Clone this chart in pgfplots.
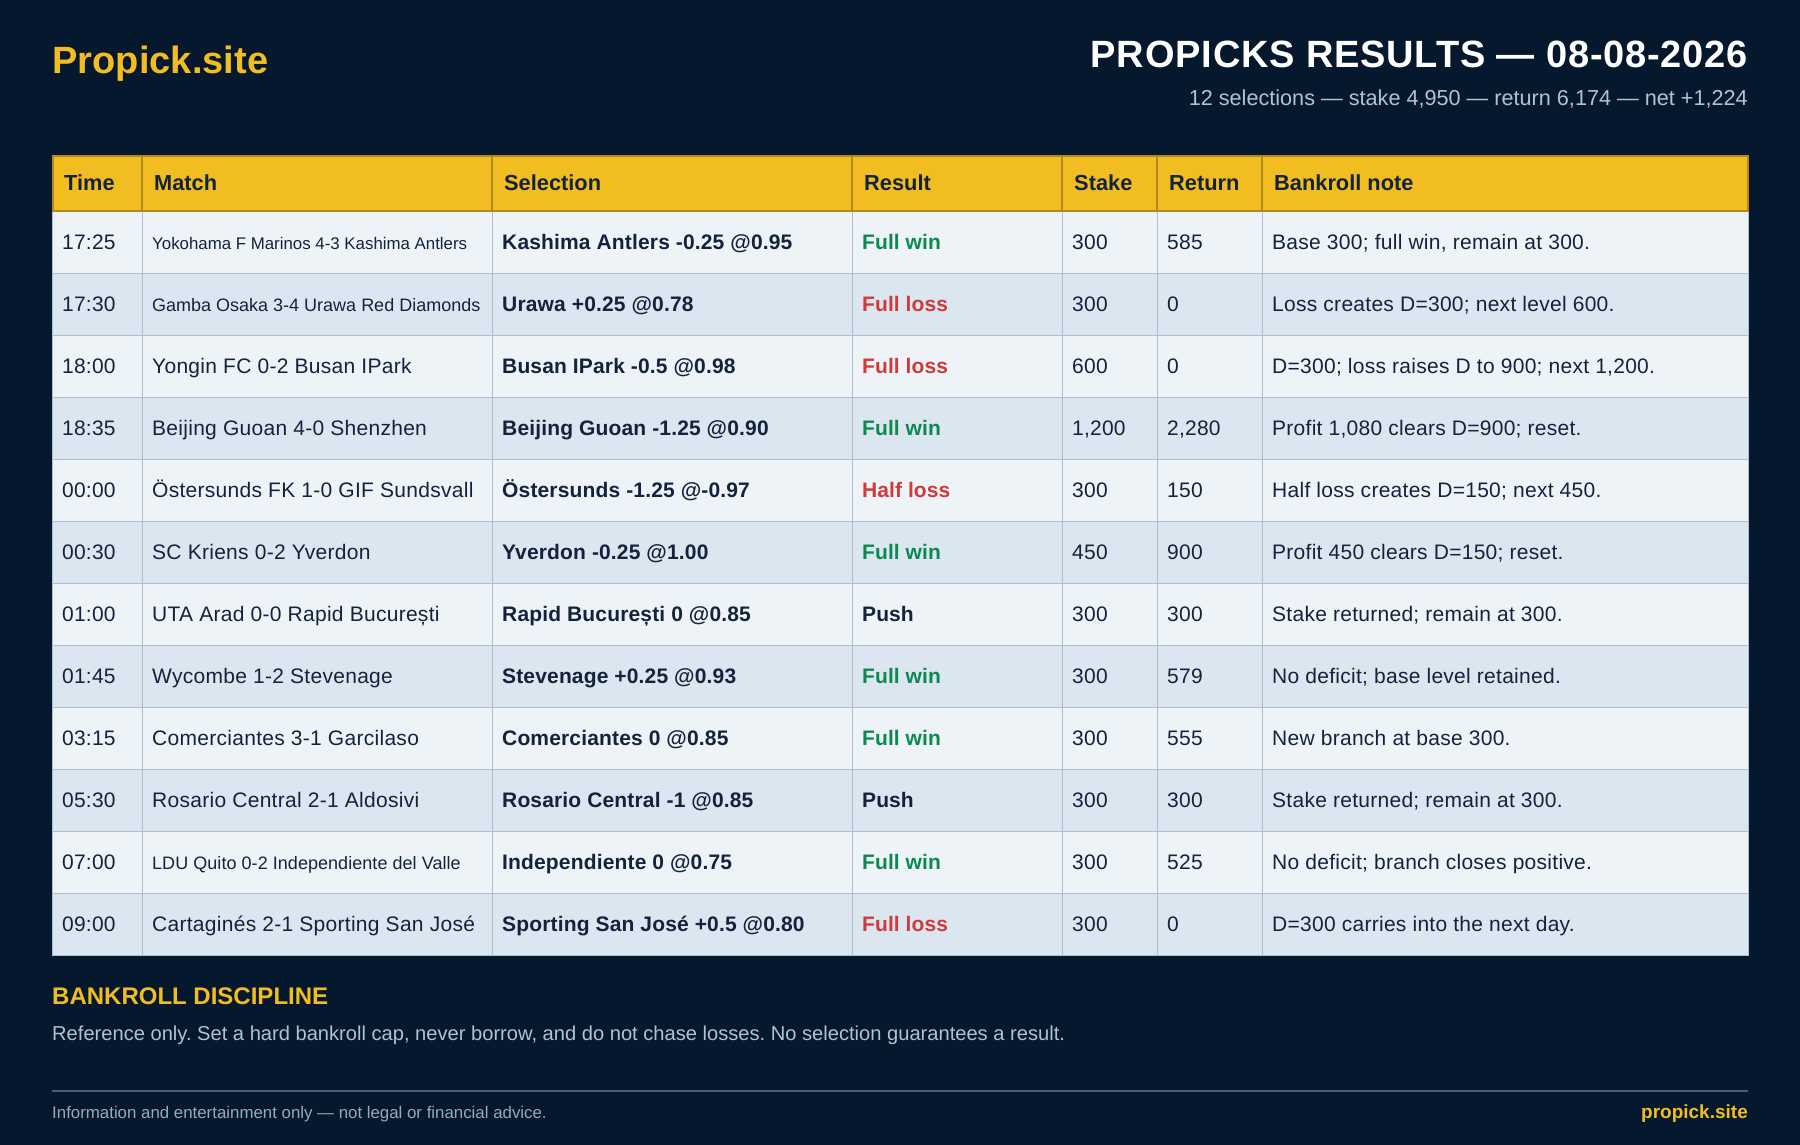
\documentclass[border=0pt]{standalone}
\usepackage{pgfplots}
\pgfplotsset{compat=1.18}
\usepackage{fontspec}
\setmainfont{Liberation Sans}
\frenchspacing
\definecolor{bg}{HTML}{05182D}
\definecolor{gold}{HTML}{F2BD20}
\definecolor{golddark}{HTML}{B08A1C}
\definecolor{rowa}{HTML}{EEF3F8}
\definecolor{rowb}{HTML}{DCE6F1}
\definecolor{gridc}{HTML}{AEBDCF}
\definecolor{ink}{HTML}{14233C}
\definecolor{winc}{HTML}{0B8A4F}
\definecolor{lossc}{HTML}{D13A3A}
\definecolor{muted}{HTML}{B4C1CF}
\definecolor{rulec}{HTML}{4A5D75}
\newcommand{\fs}[1]{\fontsize{#1}{#1}\selectfont}
\newcommand{\ls}[1]{\addfontfeature{LetterSpace=#1}}
\newcommand{\tl}[5]{\node[anchor=base west,inner sep=0pt,text=#4] at (axis cs:#1,#2) {\fs{#3}#5};}
\newcommand{\tr}[5]{\node[anchor=base east,inner sep=0pt,text=#4] at (axis cs:#1,#2) {\fs{#3}#5};}
\newcommand{\tb}[5]{\node[anchor=base west,inner sep=0pt,text=#4] at (axis cs:#1,#2) {\fs{#3}\bfseries #5};}
\newcommand{\m}{\ls{1.35}}
% row: baseline, time, match size, match, selection, result colour, result, note
\newcommand{\row}[8]{%
  \tl{62}{#1}{21}{ink}{\ls{1.1}#2}%
  \tl{152}{#1}{#3}{ink}{#4}%
  \tb{502}{#1}{21}{ink}{\ls{0.75}#5}%
  \tb{862}{#1}{21}{#6}{\ls{0.4}#7}%
  \tl{1272}{#1}{21}{ink}{\ls{1.3}#8}%
}
\begin{document}
\begin{tikzpicture}
\begin{axis}[
  scale only axis, width=1800pt, height=1145pt,
  xmin=0, xmax=1800, ymin=0, ymax=1145, y dir=reverse,
  axis lines=none, clip=false]
\addplot[fill=bg,draw=none] coordinates {(0,0)(1800,0)(1800,1145)(0,1145)} --cycle;
% header and rows
\addplot[fill=gold,draw=none] coordinates {(52,155)(1748,155)(1748,211)(52,211)} --cycle;
\addplot[fill=rowa,draw=none] coordinates {(52,211)(1748,211)(1748,273)(52,273)} --cycle;
\addplot[fill=rowb,draw=none] coordinates {(52,273)(1748,273)(1748,335)(52,335)} --cycle;
\addplot[fill=rowa,draw=none] coordinates {(52,335)(1748,335)(1748,397)(52,397)} --cycle;
\addplot[fill=rowb,draw=none] coordinates {(52,397)(1748,397)(1748,459)(52,459)} --cycle;
\addplot[fill=rowa,draw=none] coordinates {(52,459)(1748,459)(1748,521)(52,521)} --cycle;
\addplot[fill=rowb,draw=none] coordinates {(52,521)(1748,521)(1748,583)(52,583)} --cycle;
\addplot[fill=rowa,draw=none] coordinates {(52,583)(1748,583)(1748,645)(52,645)} --cycle;
\addplot[fill=rowb,draw=none] coordinates {(52,645)(1748,645)(1748,707)(52,707)} --cycle;
\addplot[fill=rowa,draw=none] coordinates {(52,707)(1748,707)(1748,769)(52,769)} --cycle;
\addplot[fill=rowb,draw=none] coordinates {(52,769)(1748,769)(1748,831)(52,831)} --cycle;
\addplot[fill=rowa,draw=none] coordinates {(52,831)(1748,831)(1748,893)(52,893)} --cycle;
\addplot[fill=rowb,draw=none] coordinates {(52,893)(1748,893)(1748,955)(52,955)} --cycle;
% grid
\pgfplotsinvokeforeach{52.5,142.2,492.2,852.2,1062.2,1157.2,1262.2,1748}{
  \addplot[gridc,line width=1pt] coordinates {(#1,211)(#1,955.5)};
}
\pgfplotsinvokeforeach{273,335,397,459,521,583,645,707,769,831,893,955.5}{
  \addplot[gridc,line width=1pt] coordinates {(52,#1)(1748.5,#1)};
}
% header borders
\pgfplotsinvokeforeach{53,142,492,852,1062,1157,1262,1748}{
  \addplot[golddark,line width=2.2pt] coordinates {(#1,155)(#1,211.5)};
}
\addplot[golddark,line width=2pt] coordinates {(52,156)(1749,156)};
\addplot[golddark,line width=2pt] coordinates {(52,210.5)(1749,210.5)};
% footer rule
\addplot[rulec,line width=2pt] coordinates {(52,1090.5)(1748,1090.5)};
% stake and return values
\addplot[draw=none,mark=none,nodes near coords,point meta=explicit symbolic,
  nodes near coords style={anchor=base west,inner sep=0pt,text=ink,font=\fs{21}\ls{1.1}}]
  table[x=x,y=y,meta=label] {
x y label
1072 249.5 300
1072 311.5 300
1072 373.5 600
1072 435.5 1,200
1072 497.5 300
1072 559.5 450
1072 621.5 300
1072 683.5 300
1072 745.5 300
1072 807.5 300
1072 869.5 300
1072 931.5 300
};
\addplot[draw=none,mark=none,nodes near coords,point meta=explicit symbolic,
  nodes near coords style={anchor=base west,inner sep=0pt,text=ink,font=\fs{21}\ls{1.1}}]
  table[x=x,y=y,meta=label] {
x y label
1167 249.5 585
1167 311.5 0
1167 373.5 0
1167 435.5 2,280
1167 497.5 150
1167 559.5 900
1167 621.5 300
1167 683.5 579
1167 745.5 555
1167 807.5 300
1167 869.5 525
1167 931.5 0
};
% titles
\tb{52}{73.5}{38}{gold}{\ls{0.2}Propick.site}
\node[anchor=base east,inner sep=0pt,text=white] at (axis cs:1748,68) {\fs{38}\bfseries\ls{2.1}PROPICKS RESULTS — 08-08-2026};
\tr{1748}{106}{21.65}{muted}{12 selections — stake 4,950 — return 6,174 — net +1,224}
% header labels
\tb{64}{190}{21.8}{ink}{Time}
\tb{154}{190}{21.8}{ink}{Match}
\tb{504}{190}{21.8}{ink}{Selection}
\tb{864}{190}{21.8}{ink}{Result}
\tb{1074}{190}{21.8}{ink}{Stake}
\tb{1169}{190}{21.8}{ink}{Return}
\tb{1274}{190}{21.8}{ink}{Bankroll note}
% rows
\row{249.5}{17:25}{16.85}{Yokohama F Marinos 4-3 Kashima Antlers}{Kashima Antlers -0.25 @0.95}{winc}{Full win}{Base 300; full win, remain at 300.}
\row{311.5}{17:30}{18}{Gamba Osaka 3-4 Urawa Red Diamonds}{Urawa +0.25 @0.78}{lossc}{Full loss}{Loss creates D=300; next level 600.}
\row{373.5}{18:00}{21}{\m Yongin FC 0-2 Busan IPark}{Busan IPark -0.5 @0.98}{lossc}{Full loss}{D=300; loss raises D to 900; next 1,200.}
\row{435.5}{18:35}{21}{\m Beijing Guoan 4-0 Shenzhen}{Beijing Guoan -1.25 @0.90}{winc}{Full win}{Profit 1,080 clears D=900; reset.}
\row{497.5}{00:00}{21}{\m Östersunds FK 1-0 GIF Sundsvall}{Östersunds -1.25 @-0.97}{lossc}{Half loss}{Half loss creates D=150; next 450.}
\row{559.5}{00:30}{21}{\m SC Kriens 0-2 Yverdon}{Yverdon -0.25 @1.00}{winc}{Full win}{Profit 450 clears D=150; reset.}
\row{621.5}{01:00}{21}{\m UTA Arad 0-0 Rapid București}{Rapid București 0 @0.85}{ink}{Push}{Stake returned; remain at 300.}
\row{683.5}{01:45}{21}{\m Wycombe 1-2 Stevenage}{Stevenage +0.25 @0.93}{winc}{Full win}{No deficit; base level retained.}
\row{745.5}{03:15}{21}{\m Comerciantes 3-1 Garcilaso}{Comerciantes 0 @0.85}{winc}{Full win}{New branch at base 300.}
\row{807.5}{05:30}{21}{\m Rosario Central 2-1 Aldosivi}{Rosario Central -1 @0.85}{ink}{Push}{Stake returned; remain at 300.}
\row{869.5}{07:00}{18}{\ls{0.3}LDU Quito 0-2 Independiente del Valle}{Independiente 0 @0.75}{winc}{Full win}{No deficit; branch closes positive.}
\row{931.5}{09:00}{21}{\m Cartaginés 2-1 Sporting San José}{Sporting San José +0.5 @0.80}{lossc}{Full loss}{D=300 carries into the next day.}
% footer
\tb{52}{1004.5}{24}{gold}{BANKROLL DISCIPLINE}
\tl{52}{1040}{20.12}{muted}{Reference only. Set a hard bankroll cap, never borrow, and do not chase losses. No selection guarantees a result.}
\tl{52}{1118}{16.85}{muted!85!bg}{Information and entertainment only — not legal or financial advice.}
\node[anchor=base east,inner sep=0pt,text=gold] at (axis cs:1748,1118) {\fs{19}\bfseries propick.site};
\end{axis}
\end{tikzpicture}
\end{document}
